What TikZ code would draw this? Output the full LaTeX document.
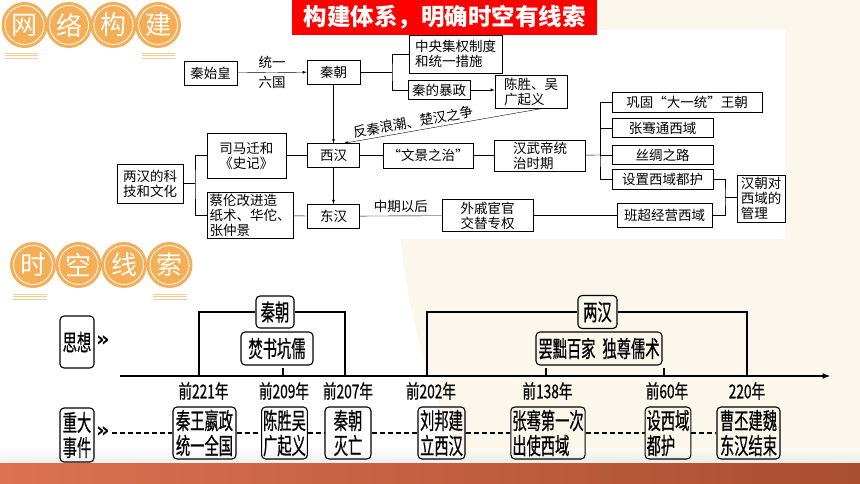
\documentclass[tikz,border=0pt]{standalone}
\usepackage{fontspec}
\usepackage{xcolor}
\usetikzlibrary{arrows}
\usetikzlibrary{positioning}
\newfontfamily\cjk{Noto Sans CJK SC}
\newfontfamily\tlfont[FakeStretch=0.62,FakeBold=0.6]{Noto Sans CJK SC}
\newfontfamily\yrfont[FakeStretch=0.72,FakeBold=0.6]{Noto Sans CJK SC}
\newfontfamily\chev{DejaVu Sans}
\definecolor{cream}{HTML}{FBF7EC}
\definecolor{orng}{HTML}{F3AE57}
\definecolor{lorng}{HTML}{F7CC94}
\definecolor{bandl}{HTML}{DC7252}
\definecolor{bandr}{HTML}{A94E2F}

\begin{document}
\begin{tikzpicture}[x=1pt,y=-1pt,>=latex,
    box/.style={draw,line width=0.6pt,fill=white,align=left,inner sep=2pt,font=\cjk\fontsize{13.5}{15}\selectfont},
    rbox/.style={draw,rounded corners=4pt,line width=1.1pt,align=center,inner sep=1.5pt,minimum height=52pt,font=\tlfont\fontsize{23}{25}\selectfont},
    year/.style={font=\yrfont\fontsize{19}{20}\selectfont},
    hcirc/.style={circle,fill=orng,minimum size=46pt,inner sep=0pt,text=white,font=\cjk\fontsize{26}{26}\selectfont},
    hline/.style={lorng,line width=0.8pt},
    chevs/.style={inner sep=0pt,font=\chev\bfseries\fontsize{21}{21}\selectfont},
    tl/.style={line width=1.2pt}]

    \useasboundingbox (0,0) rectangle (860,484);
    \fill[white] (0,0) rectangle (860,484);
    \begin{scope}
        \clip (0,0) rectangle (860,484);
        \fill[cream] (1030,180) circle (632pt);
    \end{scope}
    \fill[white] (100,30) rectangle (785,239);
    \shade[top color=white,bottom color=black!12,opacity=0.5] (0,448) rectangle (860,463);
    \shade[left color=bandl,right color=bandr] (0,463) rectangle (860,484);

    \foreach \ch [count=\i] in {网,络,构,建}{
        \node[hcirc] (wl\i) at ({24.5+44.5*(\i-1)},25) {\ch};
        \draw[white,line width=0.8pt] (wl\i.center) circle (19.5pt);
    }
    \foreach \y in {53,55.5,58}{
        \draw[hline] (5,\y) -- (38,\y);
        \draw[hline] (142,\y) -- (175,\y);
    }
    \foreach \ch [count=\i] in {时,空,线,索}{
        \node[hcirc] (sk\i) at ({33+45.5*(\i-1)},265) {\ch};
        \draw[white,line width=0.8pt] (sk\i.center) circle (19.5pt);
    }
    \foreach \y in {294,296.5,299}{
        \draw[hline] (13,\y) -- (47,\y);
        \draw[hline] (153,\y) -- (187,\y);
    }
    \node[fill=red,text=white,minimum width=305pt,minimum height=35pt,inner sep=0pt,font=\cjk\bfseries\fontsize{23.5}{24}\selectfont] (ban) at (444.5,17.5) {构建体系，明确时空有线索};

    \node[box,align=center,minimum width=53pt,minimum height=24pt] (qsh) at (210.5,73) {秦始皇};
    \node[box,align=center,minimum width=53pt,minimum height=24pt] (qc) at (333.5,72) {秦朝};
    \node[box,minimum width=93pt,minimum height=38pt] (zy) at (455.5,54) {中央集权制度\\和统一措施};
    \node[box,minimum width=62pt,minimum height=19pt] (bz) at (439,90) {秦的暴政};
    \node[box,minimum width=72pt,minimum height=33pt] (cs) at (531,92) {陈胜、吴\\广起义};
    \node[box,align=center,minimum width=52pt,minimum height=24pt,below=59pt of qc] (xh) {西汉};
    \node[box,align=center,minimum width=52pt,minimum height=24pt,below=36pt of xh] (dh) {东汉};
    \node[box,align=center,minimum width=79pt,minimum height=45pt,left=21pt of xh] (smq) {司马迁和\\《史记》};
    \node[box,minimum width=66pt,minimum height=39pt] (lh) at (150,183.5) {两汉的科\\技和文化};
    \node[box,minimum width=86pt,minimum height=45pt] (cl) at (250,215.5) {蔡伦改进造\\纸术、华佗、\\张仲景};
    \node[box,align=center,minimum width=90pt,minimum height=25pt,right=23pt of xh] (wj) {“文景之治”};
    \node[box,minimum width=91pt,minimum height=31pt,right=21pt of wj] (hwd) {汉武帝统\\治时期};
    \node[box,minimum width=91pt,minimum height=31pt] (wq) at (487.5,215.5) {外戚宦官\\交替专权};
    \node[box,align=center,minimum width=150pt,minimum height=20pt] (gg) at (687,102) {巩固“大一统”王朝};
    \node[box,align=center,minimum width=101pt,minimum height=19pt] (zq) at (662.5,128) {张骞通西域};
    \node[box,align=center,minimum width=101pt,minimum height=19pt] (sc) at (662.5,155) {丝绸之路};
    \node[box,align=center,minimum width=101pt,minimum height=20pt] (sz) at (662.5,179) {设置西域都护};
    \node[box,align=center,minimum width=95pt,minimum height=24pt] (bc) at (664.5,215.5) {班超经营西域};
    \node[box,minimum width=48pt,minimum height=47pt] (gl) at (761,198.5) {汉朝对\\西域的\\管理};

    \coordinate (j1) at (392,72);
    \coordinate (j2) at (195,183.5);
    \coordinate (j3) at (600,155);
    \coordinate (j4) at (725,197);

    \draw[->] (qsh) -- node[above,font=\cjk\fontsize{13.5}{15}\selectfont]{统一} node[below,font=\cjk\fontsize{13.5}{15}\selectfont]{六国} (qc);
    \draw (qc) -- (j1);
    \draw (zy.west) -| (j1) |- (bz.west);
    \draw[->] (bz.east) -- (bz.east -| cs.west);
    \draw[<-] (xh.50) -- node[sloped,above,pos=0.36,inner sep=2.5pt,font=\cjk\fontsize{13.5}{15}\selectfont]{反秦浪潮、楚汉之争} (cs.-61);
    \draw[->] (qc) -- (xh);
    \draw[->] (xh) -- (dh);
    \draw (smq) -- (xh);
    \draw (xh) -- (wj);
    \draw (wj) -- (hwd);
    \draw (lh) -- (j2);
    \draw (smq.west) -| (j2) |- (cl.west);
    \draw (cl) -- (dh);
    \draw (dh) -- node[above,font=\cjk\fontsize{13.5}{15}\selectfont]{中期以后} (wq);
    \draw (wq) -- (bc);
    \draw (hwd) -- (j3);
    \draw (gg.west) -| (j3) |- (sz.west);
    \draw (zq.west) -| (j3);
    \draw (sc.west) -- (j3);
    \draw (sz.east) -| (j4) |- (bc.east);
    \draw (j4) -- (j4 -| gl.west);

    \coordinate (ax0) at (120,376);
    \coordinate (ax1) at (830,376);
    \coordinate (t221) at (199,376);
    \coordinate (t209) at (283,376);
    \coordinate (t207) at (345,376);
    \coordinate (t202) at (427,376);
    \coordinate (t138) at (546,376);
    \coordinate (t60) at (664,376);
    \coordinate (t220) at (747,376);
    \coordinate (d0) at (112,433);

    \node[rbox,minimum width=34pt] (sx) at (77,342) {思想};
    \node[rbox,minimum width=34pt,minimum height=54pt] (zd) at (77,435) {重大\\事件};
    \node[chevs] (sxa) at (103,341) {»};
    \node[chevs] (zda) at (103,432) {»};

    \node[rbox,minimum width=38pt,minimum height=32pt] (qlab) at (275,312) {秦朝};
    \node[rbox,minimum width=72pt,minimum height=33pt] (fs) at (277,348.5) {焚书坑儒};
    \node[rbox,minimum width=39pt,minimum height=33pt] (hlab) at (597.5,312) {两汉};
    \node[rbox,minimum width=126pt,minimum height=33pt] (bd) at (599,348.5) {罢黜百家\hspace{7pt}独尊儒术};

    \draw[line width=1.5pt,->] (ax0) -- (ax1);
    \draw[tl] (t221) |- (qlab.west);
    \draw[tl] (qlab.east) -| (t207);
    \draw[tl] (t202) |- (hlab.west);
    \draw[tl] (hlab.east) -| (t220);
    \foreach \t in {t209,t138,t60}
        \draw[tl] (\t) -- ++(0,-8);

    \node[year] (y221) at (203.5,391) {前221年};
    \node[year] (y209) at (284,391) {前209年};
    \node[year] (y207) at (348,391) {前207年};
    \node[year] (y202) at (431,391) {前202年};
    \node[year] (y138) at (547.5,391) {前138年};
    \node[year] (y60) at (667,391) {前60年};
    \node[year] (y220) at (747,391) {220年};

    \node[rbox,minimum width=63pt] (e221) at (204.5,433) {秦王嬴政\\统一全国};
    \node[rbox,minimum width=45pt] (e209) at (284.5,433) {陈胜吴\\广起义};
    \node[rbox,minimum width=46pt] (e207) at (348,433) {秦朝\\灭亡};
    \node[rbox,minimum width=47pt] (e202) at (441.5,433) {刘邦建\\立西汉};
    \node[rbox,align=left,minimum width=74pt] (e138) at (548,433) {张骞第一次\\出使西域};
    \node[rbox,align=left,minimum width=44pt] (e60) at (668,433) {设西域\\都护};
    \node[rbox,minimum width=63pt] (e220) at (748.5,433) {曹丕建魏\\东汉结束};

    \foreach \a/\b in {d0/e221,e221/e209,e209/e207,e207/e202,e202/e138,e138/e60,e60/e220}
        \draw[tl,dash pattern=on 5pt off 3pt] (\a) -- (\b);

\end{tikzpicture}
\end{document}
